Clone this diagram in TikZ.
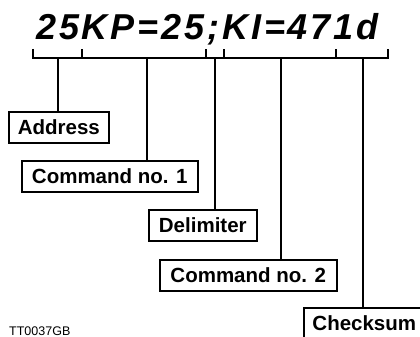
\documentclass[tikz,border=0pt]{standalone}
\usepackage{fontspec}
\setmainfont{Liberation Sans}
\newfontfamily\titlufont[LetterSpace=8]{Liberation Sans}
\usetikzlibrary{positioning,calc}
\tikzset{
  caseta/.style   = {draw, line width=1.6pt, fill=white, inner sep=0pt, anchor=north west,
                     minimum height=31pt, font=\fontsize{20.5}{24}\selectfont\bfseries},
  acolada/.style  = {line width=1.6pt},
  legatura/.style = {line width=1.6pt},
  cod/.style      = {anchor=base west, inner sep=0pt,
                     font=\titlufont\fontsize{36}{40}\selectfont\bfseries\itshape},
  eticheta/.style = {anchor=base west, inner sep=0pt, font=\fontsize{12.5}{15}\selectfont}
}

\begin{document}
\begin{tikzpicture}[x=1pt, y=-1pt]
        \useasboundingbox (0,0) rectangle (420,337);

        \node[cod] (mesaj) at (36,40) {25KP=25;KI=471d};

        \draw[acolada] (33,49) -- (33,58) -- (388,58) -- (388,49);
        \foreach \x in {82,206,224,336} \draw[acolada] (\x,58) -- (\x,49);

        \coordinate (pa) at (58,58);
        \coordinate (pc1) at (147,58);
        \coordinate (pd) at (215,58);
        \coordinate (pc2) at (281,58);
        \coordinate (ps) at (363,58);

        \node[caseta, minimum width=100pt] (adresa) at (8,111) {Address};
        \node[caseta, minimum width=176pt] (cmd1) at (21,160) {Command no. 1};
        \node[caseta, minimum width=108pt] (delim) at (148,209) {Delimiter};
        \node[caseta, minimum width=177pt] (cmd2) at (159,259) {Command no. 2};
        \node[caseta, minimum width=121pt] (suma) at (303,307) {Checksum};

        \draw[legatura] (pa) -- (pa |- adresa.north);
        \draw[legatura] (pc1) -- (pc1 |- cmd1.north);
        \draw[legatura] (pd) -- (pd |- delim.north);
        \draw[legatura] (pc2) -- (pc2 |- cmd2.north);
        \draw[legatura] (ps) -- (ps |- suma.north);

        \node[eticheta] (ref) at (9,335.5) {TT0037GB};
    \end{tikzpicture}
\end{document}
